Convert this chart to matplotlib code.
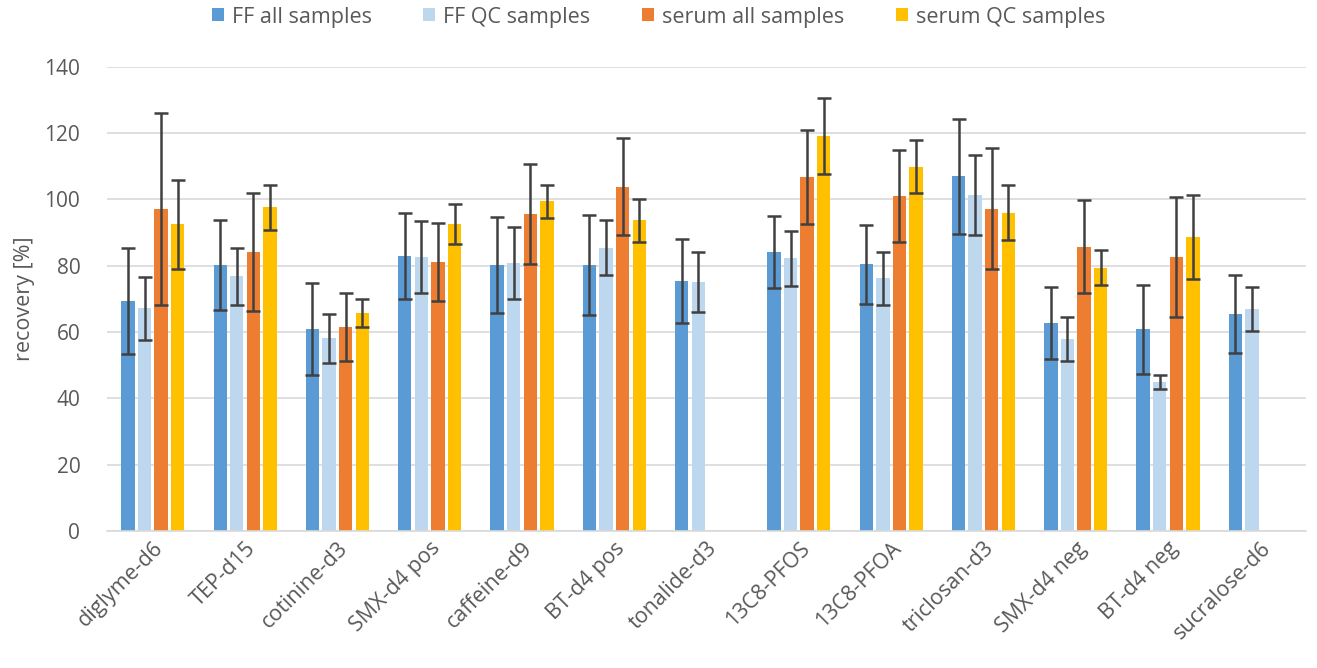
import numpy as np
import matplotlib
matplotlib.use("Agg")
import matplotlib.pyplot as plt

plt.rcParams['font.family'] = ['Open Sans', 'DejaVu Sans']

categories = ["diglyme-d6", "TEP-d15", "cotinine-d3", "SMX-d4 pos", "caffeine-d9",
              "BT-d4 pos", "tonalide-d3", "13C8-PFOS", "13C8-PFOA", "triclosan-d3",
              "SMX-d4 neg", "BT-d4 neg", "sucralose-d6"]

ff_all = [69.4, 80.2, 60.9, 82.9, 80.2, 80.2, 75.4, 84.2, 80.5, 107.0, 62.7, 60.9, 65.5]
ff_all_err = [16.0, 13.6, 13.8, 12.9, 14.4, 15.1, 12.7, 10.9, 11.9, 17.4, 10.8, 13.4, 11.8]

ff_qc = [67.2, 76.9, 58.2, 82.6, 80.8, 85.5, 75.1, 82.3, 76.2, 101.3, 57.9, 44.9, 66.9]
ff_qc_err = [9.5, 8.6, 7.4, 10.9, 10.8, 8.4, 9.0, 8.3, 7.9, 12.1, 6.6, 2.1, 6.7]

serum_all = [97.2, 84.2, 61.5, 81.1, 95.6, 103.9, np.nan, 106.7, 101.1, 97.2, 85.8, 82.7, np.nan]
serum_all_err = [29.0, 17.7, 10.3, 11.7, 15.0, 14.6, np.nan, 14.1, 13.8, 18.3, 14.0, 18.1, np.nan]

serum_qc = [92.5, 97.6, 65.8, 92.7, 99.4, 93.7, np.nan, 119.1, 109.9, 96.0, 79.4, 88.7, np.nan]
serum_qc_err = [13.5, 6.8, 4.2, 6.0, 4.9, 6.5, np.nan, 11.5, 8.1, 8.3, 5.3, 12.7, np.nan]

series = [
    ("FF all samples", ff_all, ff_all_err, "#5B9BD5"),
    ("FF QC samples", ff_qc, ff_qc_err, "#BDD7EE"),
    ("serum all samples", serum_all, serum_all_err, "#ED7D31"),
    ("serum QC samples", serum_qc, serum_qc_err, "#FFC000"),
]

fig = plt.figure(figsize=(13.17, 6.68), dpi=100)
ax = fig.add_axes([0.081, 0.205, 0.911, 0.695])

x = np.arange(len(categories))
step = 0.18
width = 0.145
handles = []
for i, (name, vals, errs, col) in enumerate(series):
    pos = x + (i - 1.5) * step
    h = ax.bar(pos, vals, width=width, color=col, label=name, zorder=2)
    handles.append(h)
    ax.errorbar(pos, vals, yerr=errs, fmt='none', ecolor='#404040',
                elinewidth=1.8, capsize=5, capthick=1.8, zorder=3)

ax.set_xlim(-0.5, len(categories) - 0.5)
ax.set_ylim(0, 140)
ax.set_yticks(np.arange(0, 141, 20))
ax.yaxis.grid(True, color='#D9D9D9', linewidth=1.2, zorder=0)
ax.set_axisbelow(True)
for s in ['left', 'right', 'top']:
    ax.spines[s].set_visible(False)
ax.spines['bottom'].set_color('#D9D9D9')
ax.spines['bottom'].set_linewidth(1.2)
ax.tick_params(axis='y', length=0, labelsize=15, labelcolor='#595959', pad=19)
ax.tick_params(axis='x', length=0, labelsize=15.5, labelcolor='#595959', pad=5)
ax.set_xticks(x)
ax.set_xticklabels(categories, rotation=45, ha='right', rotation_mode='anchor')
ax.set_ylabel("recovery [%]", fontsize=15.5, color='#595959', labelpad=7)

fig.legend(handles=handles, loc='center', bbox_to_anchor=(0.5, 1 - 17 / 668), ncol=4,
           frameon=False, fontsize=15.5, labelcolor='#595959', handlelength=0.55,
           handleheight=0.55, handletextpad=0.37, columnspacing=2.4)

fig.savefig("out.png", dpi=100)
